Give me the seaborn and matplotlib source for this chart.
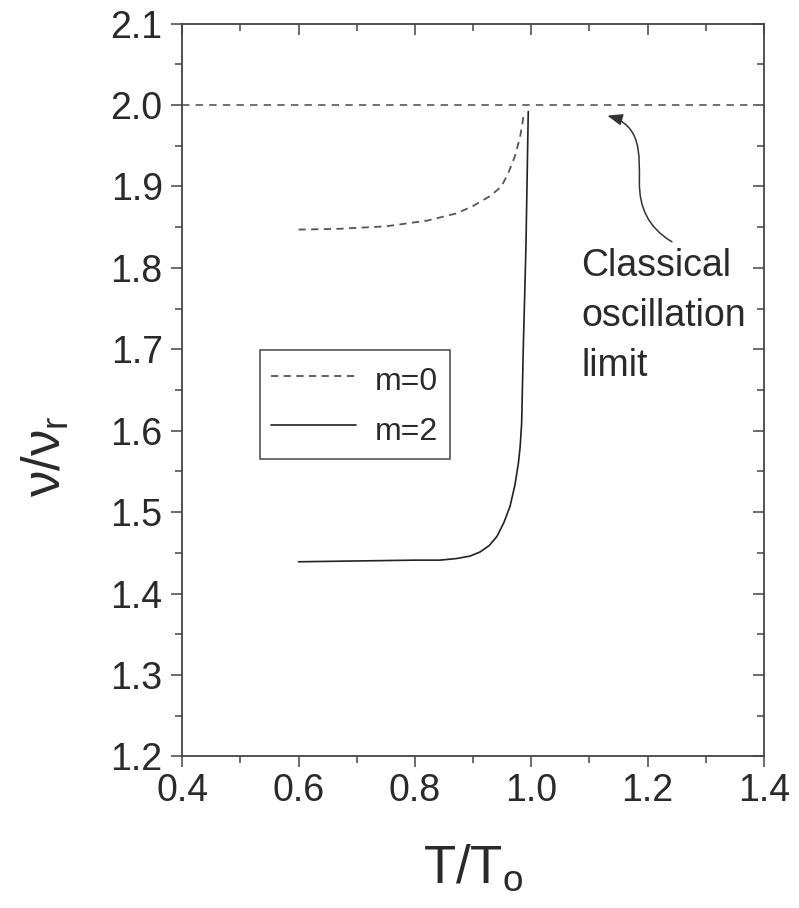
import seaborn as sns
import matplotlib.pyplot as plt
import pandas as pd
from matplotlib.path import Path
from matplotlib.patches import FancyArrowPatch

sns.set_theme(style='ticks')
plt.rcParams['font.family'] = ['Liberation Sans', 'DejaVu Sans']
plt.rcParams['mathtext.fontset'] = 'custom'
plt.rcParams['mathtext.rm'] = 'Liberation Sans'
plt.rcParams['mathtext.it'] = 'Liberation Sans'

# m=0 branch (dashed)
t_m0 = [0.600, 0.671, 0.750, 0.821, 0.872, 0.900, 0.929, 0.949, 0.961, 0.972, 0.981, 0.985, 0.988]
nu_m0 = [1.847, 1.848, 1.851, 1.858, 1.867, 1.876, 1.888, 1.900, 1.917, 1.937, 1.961, 1.978, 1.992]

# m=2 branch (solid)
t_m2 = [0.600, 0.700, 0.800, 0.843, 0.872, 0.895, 0.912, 0.928, 0.941, 0.953, 0.9636,
        0.972, 0.978, 0.981, 0.9836, 0.9865, 0.991, 0.995]
nu_m2 = [1.439, 1.440, 1.441, 1.441, 1.443, 1.446, 1.451, 1.459, 1.470, 1.487, 1.507,
         1.533, 1.560, 1.580, 1.609, 1.703, 1.826, 1.992]

classical_limit = 2.0
x_ticks = [0.4, 0.6, 0.8, 1.0, 1.2, 1.4]
y_ticks = [1.2, 1.3, 1.4, 1.5, 1.6, 1.7, 1.8, 1.9, 2.0, 2.1]
x_minor = [0.5, 0.7, 0.9, 1.1, 1.3]
y_minor = [1.25, 1.35, 1.45, 1.55, 1.65, 1.75, 1.85, 1.95, 2.05]

df0 = pd.DataFrame({'T': t_m0, 'nu': nu_m0})
df2 = pd.DataFrame({'T': t_m2, 'nu': nu_m2})

ink = '#2a2a2a'
axc = '#444444'
fig = plt.figure(figsize=(7.99, 9.08), dpi=100)
ax = fig.add_axes([0.228, 0.167, 0.728, 0.807])

ax.axhline(classical_limit, color='#707070', lw=1.4, ls=(0, (3.8, 3.2)))
sns.lineplot(data=df0, x='T', y='nu', ax=ax, color='#555555', lw=1.3,
             ls=(0, (4, 3)), label='m=0', sort=False)
sns.lineplot(data=df2, x='T', y='nu', ax=ax, color='#222222', lw=1.2,
             label='m=2', sort=False)

ax.set_xlim(0.4, 1.4)
ax.set_ylim(1.2, 2.1)
ax.set_xticks(x_ticks)
ax.set_yticks(y_ticks)
ax.set_xticks(x_minor, minor=True)
ax.set_yticks(y_minor, minor=True)
ax.set_xticklabels([f'{v:.1f}' for v in x_ticks])
ax.set_yticklabels([f'{v:.1f}' for v in y_ticks])

for s in ax.spines.values():
    s.set_visible(True)
    s.set_color(axc)
    s.set_linewidth(1.3)

ax.tick_params(which='both', direction='out', color=axc, width=1.1,
               labelsize=27, labelcolor=ink)
ax.tick_params(which='major', length=8)
ax.tick_params(which='minor', length=5)
ax.tick_params(axis='y', pad=6)
ax.tick_params(axis='x', pad=4)

# inward ticks on top and right
sec_x = ax.secondary_xaxis('top')
sec_x.set_xticks(x_ticks)
sec_x.set_xticks(x_minor, minor=True)
sec_x.tick_params(which='both', direction='in', labeltop=False, color=axc, width=1.1)
sec_x.tick_params(which='major', length=8)
sec_x.tick_params(which='minor', length=5)
sec_x.spines['top'].set_visible(False)
sec_y = ax.secondary_yaxis('right')
sec_y.set_yticks(y_ticks)
sec_y.set_yticks(y_minor, minor=True)
sec_y.tick_params(which='both', direction='in', labelright=False, color=axc, width=1.1)
sec_y.tick_params(which='major', length=8)
sec_y.tick_params(which='minor', length=5)
sec_y.spines['right'].set_visible(False)

ax.set_xlabel(r'$\mathregular{T/T_o}$', fontsize=38, color=ink)
ax.set_ylabel(r'$\mathregular{\nu/\nu_r}$', fontsize=38, color=ink)
ax.xaxis.set_label_coords(0.5, -0.118)
ax.yaxis.set_label_coords(-0.19, 0.41)

leg = ax.legend(loc='upper left', bbox_to_anchor=(0.134, 0.555), borderaxespad=0,
                fontsize=23, frameon=True, fancybox=False, framealpha=1,
                handlelength=2.65, handleheight=1.45, handletextpad=0.6,
                borderpad=0.35, labelspacing=0.35, labelcolor=ink)
leg.get_frame().set_edgecolor('#555555')
leg.get_frame().set_linewidth(1.2)

ax.text(1.086, 1.825, 'Classical\noscillation\nlimit', fontsize=27, color=ink,
        ha='left', va='top', linespacing=1.5)

# S-shaped pointer to the classical limit line
arrow_path = Path([(1.242, 1.832), (1.20, 1.85), (1.186, 1.875), (1.186, 1.905),
                   (1.186, 1.94), (1.19, 1.975), (1.131, 1.987)],
                  [Path.MOVETO, Path.CURVE4, Path.CURVE4, Path.CURVE4,
                   Path.CURVE4, Path.CURVE4, Path.CURVE4])
arrow = FancyArrowPatch(path=arrow_path, arrowstyle='-|>,head_length=9,head_width=3.5',
                        color='#333333', lw=1.1, transform=ax.transData)
ax.add_patch(arrow)

fig.savefig('out.png', dpi=100, facecolor='white')
